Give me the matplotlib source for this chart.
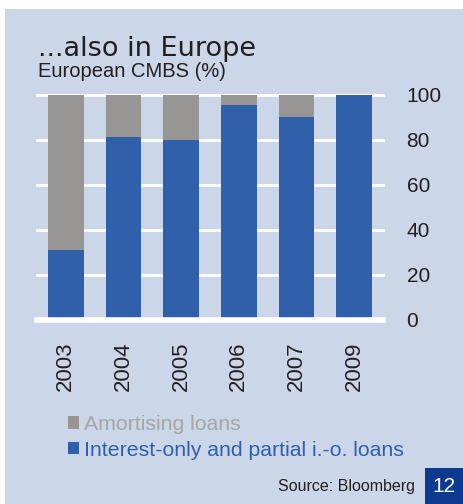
import matplotlib.pyplot as plt
from matplotlib.patches import Rectangle

years = ["2003", "2004", "2005", "2006", "2007", "2009"]
interest_only = [31, 81, 80, 95.5, 90, 100]
amortising = [69, 19, 20, 4.5, 10, 0]
yticks = [0, 20, 40, 60, 80, 100]

BG = "#cbd6e8"
GREY = "#979694"
BLUE = "#3060aa"

plt.rcParams["font.family"] = ["Liberation Sans", "DejaVu Sans"]

fig = plt.figure(figsize=(4.63, 5.04), dpi=100)
fig.patch.set_facecolor("white")
# light blue panel behind everything
fig.patches.append(Rectangle((5 / 463, 0), 1, 1 - 9 / 504,
                             transform=fig.transFigure, facecolor=BG,
                             edgecolor="none", zorder=-10))

ax = fig.add_axes([37 / 463, 1 - 319.5 / 504, 346 / 463, 225 / 504])
ax.set_facecolor("none")

x = range(len(years))
b_io = ax.bar(x, interest_only, width=0.62, color=BLUE, zorder=3)
b_am = ax.bar(x, amortising, width=0.62, bottom=interest_only, color=GREY,
              zorder=3)

ax.set_xlim(-0.5, len(years) - 0.5)
ax.set_ylim(0, 100)
for t in yticks:
    ax.axhline(t, color="white", lw=4 if t == 0 else 2, zorder=2 if t else 4,
               clip_on=False)

for s in ax.spines.values():
    s.set_visible(False)
ax.yaxis.tick_right()
ax.set_yticks(yticks)
ax.set_yticklabels([str(t) for t in yticks], fontsize=15, color="#231f20",
                   ha="left")
ax.tick_params(axis="y", length=0, pad=17)
ax.set_xticks(list(x))
ax.set_xticklabels(years, rotation=90, fontsize=16, color="#231f20")
ax.tick_params(axis="x", length=0, pad=16)

fig.text(38 / 463, 1 - 56 / 504, "...also in Europe", fontsize=19.5,
         family="DejaVu Sans", color="#231f20", va="baseline")
fig.text(38 / 463, 1 - 77 / 504, "European CMBS (%)", fontsize=14.5,
         color="#231f20", va="baseline")

ax.legend([b_am, b_io], ["Amortising loans",
                          "Interest-only and partial i.-o. loans"],
          loc="upper left", bbox_to_anchor=(68 / 463, 1 - 415 / 504),
          bbox_transform=fig.transFigure, frameon=False, fontsize=15.3,
          labelcolor=["#a6a6a6", BLUE], handlelength=0.52, handleheight=0.52,
          handletextpad=0.25, labelspacing=0.32, borderpad=0, borderaxespad=0)

fig.text(415 / 463, 1 - 487 / 504, "Source: Bloomberg", fontsize=11.5,
         color="#231f20", ha="right", va="center")
fig.patches.append(Rectangle((425 / 463, 0), 38 / 463, 36 / 504,
                             transform=fig.transFigure, facecolor="#0d3a8e",
                             edgecolor="none"))
fig.text(444 / 463, 1 - 487 / 504, "12", fontsize=15, color="white",
         ha="center", va="center")

fig.savefig("out.png", dpi=100, facecolor=fig.get_facecolor())
